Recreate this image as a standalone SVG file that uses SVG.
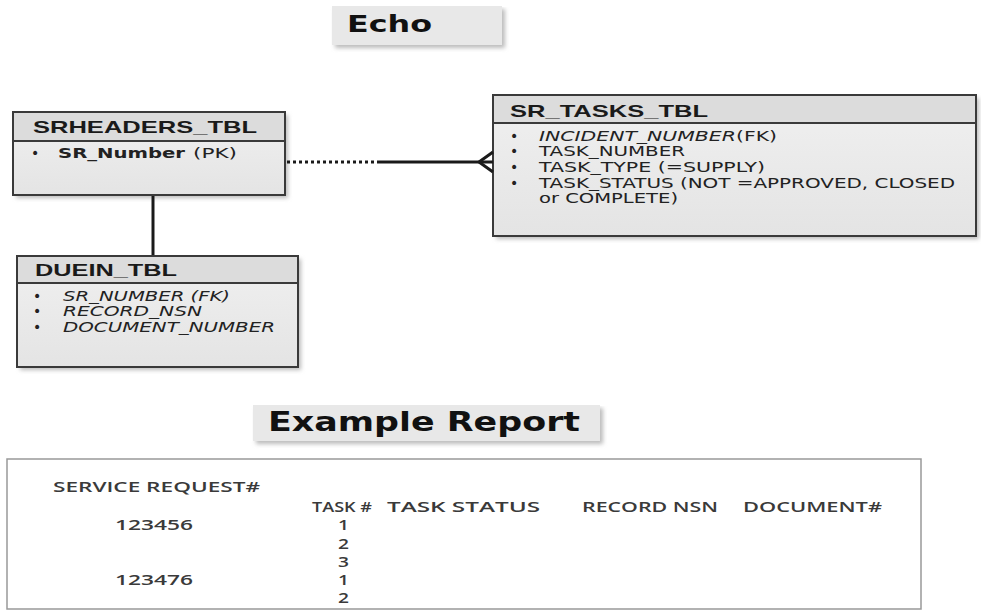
<svg xmlns="http://www.w3.org/2000/svg" width="981" height="613" viewBox="0 0 981 613">
<defs>
<linearGradient id="body" x1="0" y1="0" x2="0" y2="1">
<stop offset="0" stop-color="#f0f0f0"/>
<stop offset="1" stop-color="#e4e4e4"/>
</linearGradient>
<filter id="sh" x="-5%" y="-5%" width="115%" height="120%">
<feGaussianBlur stdDeviation="2"/>
</filter>
</defs>
<style>
.shadow{fill:#bbbbbb;filter:url(#sh)}
.tbl{fill:url(#body);stroke:#3a3a3a;stroke-width:2}
.hdr{fill:#dcdcdc;stroke:#3a3a3a;stroke-width:2}
.title{font-family:"Liberation Sans",Arial,sans-serif;font-weight:bold;font-size:17px;fill:#1a1a1a}
.item{font-family:"DejaVu Sans",Verdana,sans-serif;font-size:14px;fill:#222}
.it{font-style:italic}
.b{font-weight:bold}
.banner{fill:#e8e8e8}
.btext{font-family:"DejaVu Sans",Verdana,sans-serif;font-weight:bold;fill:#111}
.rep{font-family:"Open Sans","Liberation Sans",sans-serif;font-size:13.5px;font-weight:600;fill:#3a3a3a}
.conn{stroke:#1a1a1a;stroke-width:3;fill:none}
</style>

<g id="echo-title">
<rect class="shadow" x="335" y="9" width="170" height="39"/>
<rect class="banner" x="332" y="6" width="170" height="39"/>
<text class="btext" x="347" y="32" font-size="23" textLength="85" lengthAdjust="spacingAndGlyphs">Echo</text>
</g>

<g id="srheaders">
<rect class="shadow" x="16" y="115" width="272" height="83"/>
<rect class="tbl" x="13" y="112" width="272" height="83"/>
<rect class="hdr" x="13" y="112" width="272" height="29"/>
<text class="title" x="33" y="133" textLength="224" lengthAdjust="spacingAndGlyphs">SRHEADERS_TBL</text>
<text class="item" x="31" y="158">•</text>
<text class="item b" x="58" y="158" textLength="127" lengthAdjust="spacingAndGlyphs">SR_Number</text>
<text class="item" x="193" y="158" textLength="44" lengthAdjust="spacingAndGlyphs">(PK)</text>
</g>

<g id="sr-tasks">
<rect class="shadow" x="496" y="98" width="483" height="141"/>
<rect class="tbl" x="493" y="95" width="483" height="141"/>
<rect class="hdr" x="493" y="95" width="483" height="28"/>
<text class="title" x="510" y="117" textLength="198" lengthAdjust="spacingAndGlyphs">SR_TASKS_TBL</text>
<text class="item" x="510" y="141">•</text>
<text class="item" x="510" y="156">•</text>
<text class="item" x="510" y="172">•</text>
<text class="item" x="510" y="188">•</text>
<text class="item" x="539" y="141" textLength="238" lengthAdjust="spacingAndGlyphs"><tspan class="it">INCIDENT_NUMBER</tspan>(FK)</text>
<text class="item" x="539" y="156" textLength="146" lengthAdjust="spacingAndGlyphs">TASK_NUMBER</text>
<text class="item" x="539" y="172" textLength="226" lengthAdjust="spacingAndGlyphs">TASK_TYPE (=SUPPLY)</text>
<text class="item" x="539" y="188" textLength="416" lengthAdjust="spacingAndGlyphs">TASK_STATUS (NOT =APPROVED, CLOSED</text>
<text class="item" x="539" y="203" textLength="139" lengthAdjust="spacingAndGlyphs">or COMPLETE)</text>
</g>

<g id="duein">
<rect class="shadow" x="20" y="259" width="281" height="111"/>
<rect class="tbl" x="17" y="256" width="281" height="111"/>
<rect class="hdr" x="17" y="256" width="281" height="27"/>
<text class="title" x="35" y="276" textLength="142" lengthAdjust="spacingAndGlyphs">DUEIN_TBL</text>
<text class="item" x="33" y="301">•</text>
<text class="item" x="33" y="316">•</text>
<text class="item" x="33" y="332">•</text>
<text class="item it" x="63" y="301" textLength="167" lengthAdjust="spacingAndGlyphs">SR_NUMBER (FK)</text>
<text class="item it" x="63" y="316" textLength="139" lengthAdjust="spacingAndGlyphs">RECORD_NSN</text>
<text class="item it" x="63" y="332" textLength="212" lengthAdjust="spacingAndGlyphs">DOCUMENT_NUMBER</text>
</g>

<g id="connectors">
<line class="conn" x1="287" y1="162" x2="380" y2="162" stroke-dasharray="3 3"/>
<line class="conn" x1="380" y1="162" x2="493" y2="162"/>
<polyline class="conn" points="493,152 479,162 493,172" stroke-width="2.5"/>
<line class="conn" x1="153" y1="196" x2="153" y2="255"/>
</g>

<g id="example-title">
<rect class="shadow" x="256" y="408" width="347" height="36"/>
<rect class="banner" x="253" y="405" width="347" height="36"/>
<text class="btext" x="268" y="431" font-size="27" textLength="312" lengthAdjust="spacingAndGlyphs">Example Report</text>
</g>

<g id="report">
<rect x="7" y="459" width="914" height="150" fill="#ffffff" stroke="#999999" stroke-width="1.5"/>
<text class="rep" x="53" y="492" textLength="207" lengthAdjust="spacingAndGlyphs">SERVICE REQUEST#</text>
<text class="rep" x="312" y="512" textLength="60" lengthAdjust="spacingAndGlyphs">TASK #</text>
<text class="rep" x="387" y="512" textLength="153" lengthAdjust="spacingAndGlyphs">TASK STATUS</text>
<text class="rep" x="582" y="512" textLength="136" lengthAdjust="spacingAndGlyphs">RECORD NSN</text>
<text class="rep" x="743" y="512" textLength="139" lengthAdjust="spacingAndGlyphs">DOCUMENT#</text>
<text class="rep" x="115" y="530" textLength="78" lengthAdjust="spacingAndGlyphs">123456</text>
<text class="rep" x="115" y="585" textLength="78" lengthAdjust="spacingAndGlyphs">123476</text>
<text class="rep" x="338" y="530" textLength="11" lengthAdjust="spacingAndGlyphs">1</text>
<text class="rep" x="338" y="549" textLength="11" lengthAdjust="spacingAndGlyphs">2</text>
<text class="rep" x="338" y="567" textLength="11" lengthAdjust="spacingAndGlyphs">3</text>
<text class="rep" x="338" y="585" textLength="11" lengthAdjust="spacingAndGlyphs">1</text>
<text class="rep" x="338" y="603" textLength="11" lengthAdjust="spacingAndGlyphs">2</text>
</g>
</svg>
